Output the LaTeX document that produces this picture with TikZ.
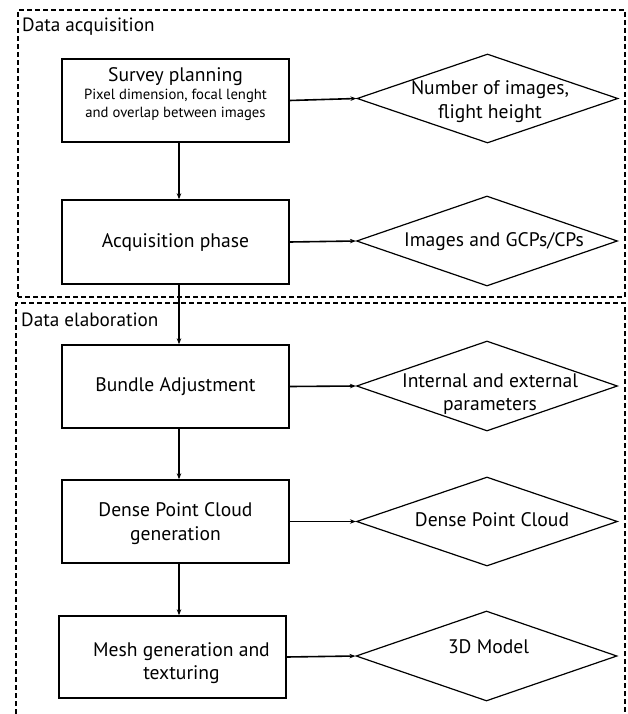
\documentclass[tikz,border=0pt]{standalone}
\usepackage{fontspec}
\setmainfont{PT Sans}
\usetikzlibrary{arrows.meta,shapes.geometric}
\begin{document}
\begin{tikzpicture}[x=1pt,y=-1pt,
  procbox/.style={draw,line width=1.4pt,minimum width=227pt,inner sep=0pt},
  outbox/.style={draw,diamond,line width=1.2pt,minimum width=261pt,inner sep=0pt},
  bigtxt/.style={font=\fontsize{19.6}{23.5}\selectfont,align=center,inner sep=0pt},
  smalltxt/.style={font=\fontsize{14.7}{18}\selectfont,align=center,inner sep=0pt},
  frametxt/.style={font=\fontsize{19.2}{22}\selectfont,anchor=west,inner sep=0pt},
  frame/.style={draw,line width=1.1pt,dash pattern=on 5pt off 3pt},
  arr/.style={draw,line width=1.6pt,-{Stealth[length=6pt,width=4.5pt]}}]
\useasboundingbox[fill=white] (0,0) rectangle (628,714);
% frames
\draw[frame] (18,297) -- (18,10) -- (625,10) -- (625,297) -- cycle;
\draw[frame] (16,714) -- (16,303) -- (625,303) -- (625,714);
\node[frametxt] (t1) at (22,27) {Data acquisition};
\node[frametxt] (t2) at (21,320) {Data elaboration};
% process boxes
\node[procbox,minimum height=83pt] (sp) at (175.5,100.5) {};
\node[bigtxt] (sptitle) at (175.5,77) {Survey planning};
\node[smalltxt] (spsub) at (175.5,105) {Pixel dimension, focal lenght\\and overlap between images};
\node[procbox,minimum height=84pt] (ap) at (175.5,242) {};
\node[bigtxt] (aptxt) at (175.5,242) {Acquisition phase};
\node[procbox,minimum height=83pt] (ba) at (175.5,386.5) {};
\node[bigtxt] (batxt) at (175.5,387) {Bundle Adjustment};
\node[procbox,minimum height=83pt] (dp) at (175.5,521.5) {};
\node[bigtxt] (dptxt) at (175.5,523.5) {Dense Point Cloud\\generation};
\node[procbox,minimum height=82pt] (mg) at (172.5,657) {};
\node[bigtxt] (mgtxt) at (181.5,663) {Mesh generation and\\texturing};
% outputs
\node[outbox,minimum height=89pt] (o1) at (487.5,98.5) {};
\node[bigtxt] (o1t) at (490,101.5) {Number of images,\\flight height};
\node[outbox,minimum height=90pt] (o2) at (487,241) {};
\node[bigtxt] (o2t) at (494,242) {Images and GCPs/CPs};
\node[outbox,minimum height=90pt] (o3) at (487,386) {};
\node[bigtxt] (o3t) at (490,394) {Internal and external\\parameters};
\node[outbox,minimum height=89pt] (o4) at (487,521.5) {};
\node[bigtxt] (o4t) at (492,520) {Dense Point Cloud};
\node[outbox,minimum height=90pt] (o5) at (486.5,656) {};
\node[bigtxt] (o5t) at (488.5,647) {3D Model};
% arrows
\draw[arr] (sp.east) -- (o1.west);
\draw[arr] (ap.east) -- (o2.west);
\draw[arr] (ba.east) -- (o3.west);
\draw[arr] (dp.east) -- (o4.west);
\draw[arr] (mg.east) -- (o5.west);
\draw[arr] ([xshift=3.5pt]sp.south) -- ([xshift=3.5pt]ap.north);
\draw[arr] ([xshift=3.5pt]ap.south) -- ([xshift=3.5pt]ba.north);
\draw[arr] ([xshift=3.5pt]ba.south) -- ([xshift=3.5pt]dp.north);
\draw[arr] ([xshift=3.5pt]dp.south) -- ([xshift=6.5pt]mg.north);
\end{tikzpicture}
\end{document}
